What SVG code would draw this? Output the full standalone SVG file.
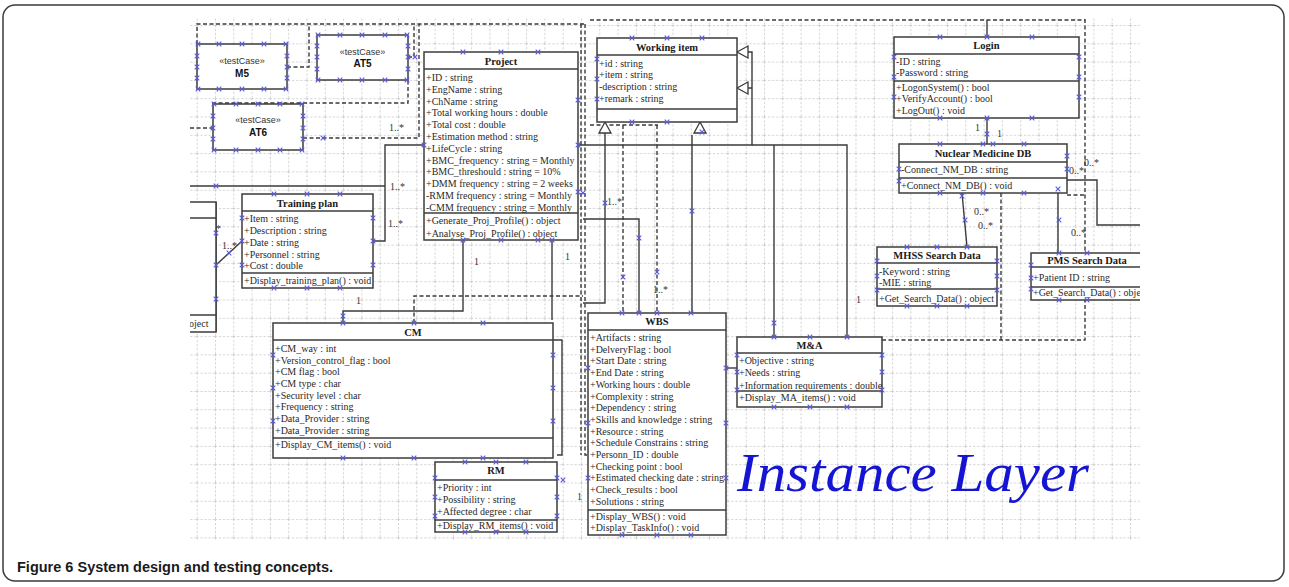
<svg xmlns="http://www.w3.org/2000/svg" xmlns:xlink="http://www.w3.org/1999/xlink" width="1289" height="587" viewBox="0 0 1289 587">
<style>
.box{fill:#fff;stroke:#3c3c3c;stroke-width:1.5}
.sep{stroke:#3c3c3c;stroke-width:1.3}
.t{font-family:"Liberation Serif","Times New Roman",serif;font-size:10px;fill:#2a2a2a}
.h{font-family:"Liberation Serif","Times New Roman",serif;font-size:10.5px;font-weight:bold;fill:#1a1a1a;text-anchor:middle}
.tc{font-family:"Liberation Sans",Arial,sans-serif;font-size:9px;fill:#333;text-anchor:middle}
.tn{font-family:"Liberation Sans",Arial,sans-serif;font-size:10px;font-weight:bold;fill:#111;text-anchor:middle}
.c{fill:none;stroke:#3a3a3a;stroke-width:1.4}
.d{fill:none;stroke:#3a3a3a;stroke-width:1.4;stroke-dasharray:4 2.5}
.lb{font-family:"Liberation Serif","Times New Roman",serif;font-size:10px;fill:#333}
</style>
<defs>
<pattern id="grid" x="196.7" y="6.7" width="18.3" height="18.3" patternUnits="userSpaceOnUse">
<path d="M0,0.5 H18.3 M0.5,0 V18.3" stroke="#c4c4c4" stroke-width="0.8" stroke-dasharray="2 2" fill="none"/>
</pattern>
<clipPath id="clip"><rect x="190" y="18" width="950" height="522"/></clipPath>
<path id="m" d="M-2.3,-2.3 L2.3,2.3 M-2.3,2.3 L2.3,-2.3" stroke="#5858e0" stroke-width="1.1" fill="none"/>
<path id="tri" d="M0,0 L-6,11 L6,11 Z" fill="#fff" stroke="#3a3a3a" stroke-width="1.3"/>
<path id="tril" d="M0,0 L11,-6 L11,6 Z" fill="#fff" stroke="#3a3a3a" stroke-width="1.3"/>
</defs>

<rect x="3" y="5" width="1281" height="576" rx="12" fill="#fff" stroke="#3a3a3a" stroke-width="1.5"/>

<g clip-path="url(#clip)">
<rect x="190" y="18" width="950" height="522" fill="#fff"/>
<rect x="190" y="18" width="950" height="522" fill="url(#grid)"/>

<g id="connectors">
<path class="d" d="M197,44 V24 H584"/>
<path class="d" d="M287,67 H309 V24"/>
<path class="d" d="M213,104 V103 H408 V80"/>
<path class="d" d="M303,138 H419 V24"/>
<path class="d" d="M408,57 H414 V24"/>
<path class="d" d="M190,128 H213"/>
<path class="c" d="M190,186 H385"/>
<path class="c" d="M373,241 H385 V145 H424"/>
<path class="c" d="M216,202 V332"/>
<path class="c" d="M216,265 L242,241"/>
<path class="c" d="M343,323 V311 H463 V240"/>
<path class="d" d="M414,323 V296 H583"/>
<path class="c" d="M552,240 V320"/>
<path class="c" d="M553,340 H562 V455 H557"/>
<path class="d" d="M581,24 V455"/>
<path class="d" d="M585,24 V455 H588"/>
<path class="c" d="M578,145 H752 V52 H748 M752,88 H748"/>
<use href="#tril" x="737" y="52"/>
<use href="#tril" x="737" y="88"/>
<path class="c" d="M605,133 V303 H583"/>
<path class="d" d="M590,125 H658"/>
<path class="d" d="M623,125 V313"/>
<path class="c" d="M583,219 H639 V313"/>
<path class="d" d="M657,125 V313"/>
<path class="c" d="M692,135 V313"/>
<use href="#tri" x="605" y="122"/>
<use href="#tri" x="700" y="122"/>
<path class="c" d="M726,368 H737"/>
<path class="c" d="M774,337 V145"/>
<path class="c" d="M847,337 V145 H752"/>
<path class="d" d="M882,340 H1085 V18"/>
<path class="d" d="M590,20 H1085"/>
<path class="d" d="M1001,193 V340"/>
<path class="c" d="M987,37 V20"/>
<path class="c" d="M987,118 V144"/>
<path class="c" d="M962,193 L967,247"/>
<path class="c" d="M1058,193 V253"/>
<path class="c" d="M1067,180 H1097 V225 H1140"/>
<path class="d" d="M1067,195 H1085"/>
</g>

<g class="lb">
<text x="389" y="131">1..*</text>
<text x="390" y="190">1..*</text>
<text x="388" y="227">1..*</text>
<text x="206" y="232">1..*</text>
<text x="222" y="249">1..*</text>
<text x="356" y="304">1</text>
<text x="474" y="265">1</text>
<text x="565" y="260">1</text>
<text x="607" y="205">1..*</text>
<text x="653" y="293">1..*</text>
<text x="577" y="500">1</text>
<text x="856" y="303">1</text>
<text x="975" y="131">1</text>
<text x="997" y="137">1</text>
<text x="974" y="215">0..*</text>
<text x="978" y="229">0..*</text>
<text x="1069" y="174">0..*</text>
<text x="1084" y="166">0..*</text>
<text x="1071" y="236">0..*</text>
</g>

<g id="M5"><rect class="box" x="197" y="44" width="90" height="45"/><text class="tc" x="242" y="64">«testCase»</text><text class="tn" x="242" y="76.5">M5</text></g>
<g id="AT5"><rect class="box" x="317" y="35" width="91" height="45"/><text class="tc" x="362.5" y="55">«testCase»</text><text class="tn" x="362.5" y="67">AT5</text></g>
<g id="AT6"><rect class="box" x="213" y="104" width="90" height="46"/><text class="tc" x="258" y="123">«testCase»</text><text class="tn" x="258" y="135.5">AT6</text></g>

<g id="partial"><rect class="box" x="170" y="202" width="46" height="130"/><line class="sep" x1="170" y1="218" x2="216" y2="218"/><line class="sep" x1="170" y1="315" x2="216" y2="315"/><text class="t" x="189" y="327">oject</text></g>

<g id="Project">
<rect class="box" x="424" y="52" width="154" height="188"/>
<line class="sep" x1="424" y1="69" x2="578" y2="69"/><line class="sep" x1="424" y1="213" x2="578" y2="213"/>
<text class="h" x="501" y="64.5">Project</text>
<text class="t" x="426" y="81">+ID : string</text>
<text class="t" x="426" y="92.8">+EngName : string</text>
<text class="t" x="426" y="104.6">+ChName : string</text>
<text class="t" x="426" y="116.4">+Total working hours : double</text>
<text class="t" x="426" y="128.2">+Total cost : double</text>
<text class="t" x="426" y="140">+Estimation method : string</text>
<text class="t" x="426" y="151.8">+LifeCycle : string</text>
<text class="t" x="426" y="163.6">+BMC_frequency : string = Monthly</text>
<text class="t" x="426" y="175.4">+BMC_threshould : string = 10%</text>
<text class="t" x="426" y="187.2">+DMM frequency : string = 2 weeks</text>
<text class="t" x="426" y="199">-RMM frequency : string = Monthly</text>
<text class="t" x="426" y="210.8">-CMM frequency : string = Monthly</text>
<text class="t" x="426" y="224">+Generate_Proj_Profile() : object</text>
<text class="t" x="426" y="236.5">+Analyse_Proj_Profile() : object</text>
</g>

<g id="WorkingItem">
<rect class="box" x="597" y="38" width="140" height="84"/>
<line class="sep" x1="597" y1="55" x2="737" y2="55"/><line class="sep" x1="597" y1="109" x2="737" y2="109"/>
<text class="h" x="667" y="50.5">Working item</text>
<text class="t" x="599" y="66.5">+id : string</text>
<text class="t" x="599" y="78.2">+item : string</text>
<text class="t" x="599" y="89.9">-description : string</text>
<text class="t" x="599" y="101.6">+remark : string</text>
</g>

<g id="Login">
<rect class="box" x="894" y="37" width="185" height="81"/>
<line class="sep" x1="894" y1="54" x2="1079" y2="54"/><line class="sep" x1="894" y1="81" x2="1079" y2="81"/>
<text class="h" x="986.5" y="48.5">Login</text>
<text class="t" x="896" y="64.5">-ID : string</text>
<text class="t" x="896" y="76">-Password : string</text>
<text class="t" x="896" y="90.5">+LogonSystem() : bool</text>
<text class="t" x="896" y="102">+VerifyAccount() : bool</text>
<text class="t" x="896" y="114">+LogOut() : void</text>
</g>

<g id="NMDB">
<rect class="box" x="899" y="144" width="168" height="49"/>
<line class="sep" x1="899" y1="162" x2="1067" y2="162"/><line class="sep" x1="899" y1="178" x2="1067" y2="178"/>
<text class="h" x="983" y="156.5">Nuclear Medicine DB</text>
<text class="t" x="901" y="172.5">-Connect_NM_DB : string</text>
<text class="t" x="901" y="188.5">+Connect_NM_DB() : void</text>
</g>

<g id="TrainingPlan">
<rect class="box" x="242" y="194" width="131" height="94"/>
<line class="sep" x1="242" y1="211" x2="373" y2="211"/><line class="sep" x1="242" y1="273" x2="373" y2="273"/>
<text class="h" x="307.5" y="206.5">Training plan</text>
<text class="t" x="244" y="221.5">+Item : string</text>
<text class="t" x="244" y="233.5">+Description : string</text>
<text class="t" x="244" y="246">+Date : string</text>
<text class="t" x="244" y="257.5">+Personnel : string</text>
<text class="t" x="244" y="268.5">+Cost : double</text>
<text class="t" x="244" y="283.5">+Display_training_plan() : void</text>
</g>

<g id="MHSS">
<rect class="box" x="877" y="247" width="120" height="59"/>
<line class="sep" x1="877" y1="263" x2="997" y2="263"/><line class="sep" x1="877" y1="289" x2="997" y2="289"/>
<text class="h" x="937" y="258.5">MHSS Search Data</text>
<text class="t" x="879" y="274.5">-Keyword : string</text>
<text class="t" x="879" y="286">-MIE : string</text>
<text class="t" x="879" y="301.5">+Get_Search_Data() : object</text>
</g>

<g id="PMS">
<rect class="box" x="1031" y="253" width="112" height="47"/>
<line class="sep" x1="1031" y1="267" x2="1143" y2="267"/><line class="sep" x1="1031" y1="287" x2="1143" y2="287"/>
<text class="h" x="1087" y="264">PMS Search Data</text>
<text class="t" x="1033" y="281">+Patient ID : string</text>
<text class="t" x="1033" y="295.5">+Get_Search_Data() : object</text>
</g>

<g id="CM">
<rect class="box" x="273" y="323" width="280" height="135"/>
<line class="sep" x1="273" y1="340" x2="553" y2="340"/><line class="sep" x1="273" y1="438" x2="553" y2="438"/>
<text class="h" x="413" y="335.5">CM</text>
<text class="t" x="275" y="351.5">+CM_way : int</text>
<text class="t" x="275" y="363.5">+Version_control_flag : bool</text>
<text class="t" x="275" y="375">+CM flag : bool</text>
<text class="t" x="275" y="387">+CM type : char</text>
<text class="t" x="275" y="398.5">+Security level : char</text>
<text class="t" x="275" y="410">+Frequency : string</text>
<text class="t" x="275" y="422">+Data_Provider : string</text>
<text class="t" x="275" y="434">+Data_Provider : string</text>
<text class="t" x="275" y="447.5">+Display_CM_items() : void</text>
</g>

<g id="WBS">
<rect class="box" x="588" y="313" width="138" height="222"/>
<line class="sep" x1="588" y1="330" x2="726" y2="330"/><line class="sep" x1="588" y1="510" x2="726" y2="510"/>
<text class="h" x="657" y="324.5">WBS</text>
<text class="t" x="590" y="341">+Artifacts : string</text>
<text class="t" x="590" y="352.7">+DelveryFlag : bool</text>
<text class="t" x="590" y="364.4">+Start Date : string</text>
<text class="t" x="590" y="376.1">+End Date : string</text>
<text class="t" x="590" y="387.8">+Working hours : double</text>
<text class="t" x="590" y="399.5">+Complexity : string</text>
<text class="t" x="590" y="411.2">+Dependency : string</text>
<text class="t" x="590" y="422.9">+Skills and knowledge : string</text>
<text class="t" x="590" y="434.6">+Resource : string</text>
<text class="t" x="590" y="446.3">+Schedule Constrains : string</text>
<text class="t" x="590" y="458">+Personn_ID : double</text>
<text class="t" x="590" y="469.7">+Checking point : bool</text>
<text class="t" x="590" y="481.4">+Estimated checking date : string</text>
<text class="t" x="590" y="493.1">+Check_results : bool</text>
<text class="t" x="590" y="504.8">+Solutions : string</text>
<text class="t" x="590" y="519.5">+Display_WBS() : void</text>
<text class="t" x="590" y="531">+Display_TaskInfo() : void</text>
</g>

<g id="MA">
<rect class="box" x="737" y="337" width="145" height="70"/>
<line class="sep" x1="737" y1="353" x2="882" y2="353"/><line class="sep" x1="737" y1="391" x2="882" y2="391"/>
<text class="h" x="809.5" y="348.5">M&amp;A</text>
<text class="t" x="739" y="364">+Objective : string</text>
<text class="t" x="739" y="376">+Needs : string</text>
<text class="t" x="739" y="388.5">+Information requirements : double</text>
<text class="t" x="739" y="401">+Display_MA_items() : void</text>
</g>

<g id="RM">
<rect class="box" x="435" y="462" width="122" height="70"/>
<line class="sep" x1="435" y1="480" x2="557" y2="480"/><line class="sep" x1="435" y1="520" x2="557" y2="520"/>
<text class="h" x="496" y="473.5">RM</text>
<text class="t" x="437" y="491">+Priority : int</text>
<text class="t" x="437" y="503">+Possibility : string</text>
<text class="t" x="437" y="514.5">+Affected degree : char</text>
<text class="t" x="437" y="528.5">+Display_RM_items() : void</text>
</g>

<g id="markers">
<use href="#m" x="198" y="44"/><use href="#m" x="219" y="44"/><use href="#m" x="242" y="44"/><use href="#m" x="264" y="44"/><use href="#m" x="286" y="44"/>
<use href="#m" x="198" y="89"/><use href="#m" x="219" y="89"/><use href="#m" x="242" y="89"/><use href="#m" x="264" y="89"/><use href="#m" x="286" y="89"/>
<use href="#m" x="197" y="56"/><use href="#m" x="197" y="67"/><use href="#m" x="197" y="78"/><use href="#m" x="287" y="56"/><use href="#m" x="287" y="67"/><use href="#m" x="287" y="78"/>
<use href="#m" x="318" y="35"/><use href="#m" x="340" y="35"/><use href="#m" x="362" y="35"/><use href="#m" x="385" y="35"/><use href="#m" x="407" y="35"/>
<use href="#m" x="318" y="80"/><use href="#m" x="340" y="80"/><use href="#m" x="362" y="80"/><use href="#m" x="385" y="80"/><use href="#m" x="407" y="80"/>
<use href="#m" x="317" y="46"/><use href="#m" x="317" y="57"/><use href="#m" x="317" y="69"/><use href="#m" x="408" y="46"/><use href="#m" x="408" y="57"/><use href="#m" x="408" y="69"/>
<use href="#m" x="214" y="104"/><use href="#m" x="236" y="104"/><use href="#m" x="258" y="104"/><use href="#m" x="280" y="104"/><use href="#m" x="302" y="104"/>
<use href="#m" x="214" y="150"/><use href="#m" x="236" y="150"/><use href="#m" x="258" y="150"/><use href="#m" x="280" y="150"/><use href="#m" x="302" y="150"/>
<use href="#m" x="213" y="116"/><use href="#m" x="213" y="128"/><use href="#m" x="213" y="139"/><use href="#m" x="303" y="116"/><use href="#m" x="303" y="128"/><use href="#m" x="303" y="139"/>
<use href="#m" x="323" y="138"/><use href="#m" x="415" y="57"/>
<use href="#m" x="463" y="52"/><use href="#m" x="501" y="52"/><use href="#m" x="538" y="52"/><use href="#m" x="463" y="240"/><use href="#m" x="501" y="240"/><use href="#m" x="538" y="240"/>
<use href="#m" x="424" y="145"/><use href="#m" x="578" y="100"/><use href="#m" x="578" y="145"/><use href="#m" x="578" y="192"/><use href="#m" x="552" y="240"/>
<use href="#m" x="632" y="38"/><use href="#m" x="667" y="38"/><use href="#m" x="702" y="38"/><use href="#m" x="632" y="122"/><use href="#m" x="667" y="122"/><use href="#m" x="702" y="132"/>
<use href="#m" x="597" y="59"/><use href="#m" x="597" y="79"/><use href="#m" x="597" y="99"/>
<use href="#m" x="940" y="37"/><use href="#m" x="987" y="37"/><use href="#m" x="1032" y="37"/><use href="#m" x="940" y="118"/><use href="#m" x="987" y="118"/><use href="#m" x="1032" y="118"/>
<use href="#m" x="894" y="57"/><use href="#m" x="894" y="77"/><use href="#m" x="894" y="97"/><use href="#m" x="1079" y="57"/><use href="#m" x="1079" y="77"/><use href="#m" x="1079" y="97"/>
<use href="#m" x="987" y="134"/>
<use href="#m" x="940" y="144"/><use href="#m" x="983" y="144"/><use href="#m" x="993" y="144"/><use href="#m" x="1024" y="144"/><use href="#m" x="940" y="193"/><use href="#m" x="962" y="196"/><use href="#m" x="983" y="193"/><use href="#m" x="1024" y="193"/>
<use href="#m" x="899" y="169"/><use href="#m" x="899" y="181"/><use href="#m" x="1067" y="156"/><use href="#m" x="1067" y="169"/><use href="#m" x="1058" y="189"/>
<use href="#m" x="274" y="194"/><use href="#m" x="307" y="194"/><use href="#m" x="340" y="194"/><use href="#m" x="274" y="288"/><use href="#m" x="307" y="288"/><use href="#m" x="340" y="288"/>
<use href="#m" x="242" y="218"/><use href="#m" x="242" y="241"/><use href="#m" x="242" y="265"/><use href="#m" x="373" y="218"/><use href="#m" x="373" y="241"/><use href="#m" x="373" y="265"/>
<use href="#m" x="216" y="233"/><use href="#m" x="216" y="265"/><use href="#m" x="216" y="299"/><use href="#m" x="229" y="253"/><use href="#m" x="216" y="186"/>
<use href="#m" x="907" y="247"/><use href="#m" x="937" y="247"/><use href="#m" x="967" y="247"/><use href="#m" x="907" y="306"/><use href="#m" x="937" y="306"/><use href="#m" x="967" y="306"/>
<use href="#m" x="877" y="261"/><use href="#m" x="877" y="276"/><use href="#m" x="877" y="290"/><use href="#m" x="997" y="261"/><use href="#m" x="997" y="276"/><use href="#m" x="997" y="290"/><use href="#m" x="965" y="220"/>
<use href="#m" x="1059" y="253"/><use href="#m" x="1087" y="253"/><use href="#m" x="1059" y="300"/><use href="#m" x="1087" y="300"/><use href="#m" x="1031" y="265"/><use href="#m" x="1031" y="278"/><use href="#m" x="1031" y="289"/><use href="#m" x="1059" y="220"/>
<use href="#m" x="343" y="323"/><use href="#m" x="414" y="323"/><use href="#m" x="483" y="323"/><use href="#m" x="343" y="458"/><use href="#m" x="414" y="458"/><use href="#m" x="483" y="458"/>
<use href="#m" x="273" y="355"/><use href="#m" x="273" y="388"/><use href="#m" x="273" y="421"/><use href="#m" x="553" y="355"/><use href="#m" x="553" y="388"/><use href="#m" x="553" y="421"/><use href="#m" x="343" y="316"/>
<use href="#m" x="622" y="313"/><use href="#m" x="657" y="313"/><use href="#m" x="691" y="313"/><use href="#m" x="622" y="535"/><use href="#m" x="657" y="535"/><use href="#m" x="691" y="535"/><use href="#m" x="639" y="313"/>
<use href="#m" x="588" y="368"/><use href="#m" x="588" y="423"/><use href="#m" x="588" y="478"/><use href="#m" x="726" y="368"/><use href="#m" x="726" y="423"/><use href="#m" x="726" y="478"/>
<use href="#m" x="605" y="203"/><use href="#m" x="623" y="277"/><use href="#m" x="639" y="238"/><use href="#m" x="657" y="272"/><use href="#m" x="692" y="211"/><use href="#m" x="583" y="193"/>
<use href="#m" x="774" y="337"/><use href="#m" x="810" y="337"/><use href="#m" x="847" y="337"/><use href="#m" x="774" y="407"/><use href="#m" x="810" y="407"/><use href="#m" x="847" y="407"/>
<use href="#m" x="737" y="355"/><use href="#m" x="737" y="372"/><use href="#m" x="737" y="390"/><use href="#m" x="882" y="355"/><use href="#m" x="882" y="372"/><use href="#m" x="882" y="390"/><use href="#m" x="774" y="323"/>
<use href="#m" x="465" y="462"/><use href="#m" x="496" y="462"/><use href="#m" x="526" y="462"/><use href="#m" x="465" y="532"/><use href="#m" x="496" y="532"/><use href="#m" x="526" y="532"/>
<use href="#m" x="435" y="478"/><use href="#m" x="435" y="497"/><use href="#m" x="435" y="516"/><use href="#m" x="557" y="478"/><use href="#m" x="557" y="497"/><use href="#m" x="557" y="516"/><use href="#m" x="563" y="480"/>
</g>

<text x="737" y="491" font-family="'Liberation Serif','Times New Roman',serif" font-style="italic" font-size="55" fill="#1414d2" textLength="352" lengthAdjust="spacingAndGlyphs">Instance Layer</text>
</g>

<text x="17" y="572" font-family="'Liberation Sans',Arial,sans-serif" font-weight="bold" font-size="14.5" fill="#1a1a1a" textLength="316" lengthAdjust="spacingAndGlyphs">Figure 6 System design and testing concepts.</text>
</svg>
